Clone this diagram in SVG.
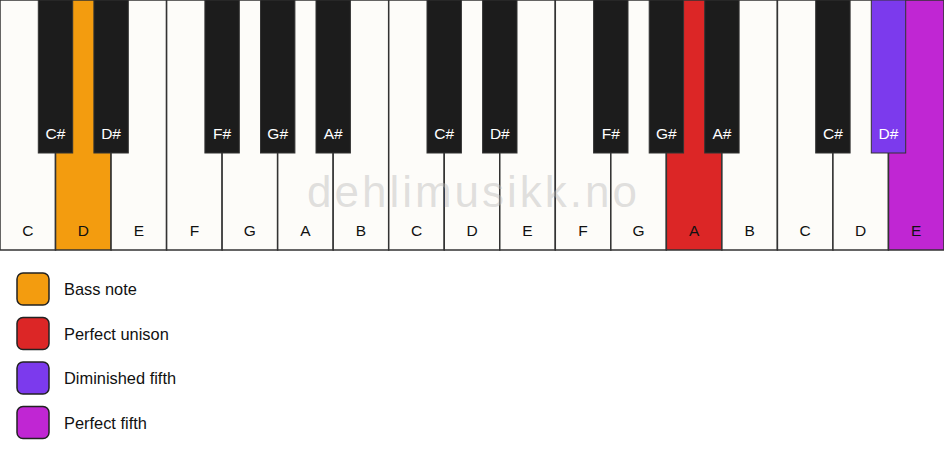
<svg xmlns="http://www.w3.org/2000/svg" width="944" height="461" viewBox="0 0 944 461">
<style>
.w{fill:#fdfcf9;stroke:#333;stroke-width:1.5}
.b{fill:#1c1c1c;stroke:#333;stroke-width:1}
.wl{font-family:"Liberation Sans",Arial,sans-serif;font-size:15.5px;fill:#111;text-anchor:middle}
.bl{font-family:"Liberation Sans",Arial,sans-serif;font-size:15.5px;fill:#fff;text-anchor:middle}
.lg{stroke:#222;stroke-width:1.5}
.lt{font-family:"Liberation Sans",Arial,sans-serif;font-size:16.4px;fill:#111}
</style>
<rect x="0" y="0" width="944" height="461" fill="#ffffff"/>
<g id="white-keys">
<g id="w0"><rect class="w" x="0" y="0" width="55.53" height="250"/><text class="wl" x="27.8" y="236">C</text></g>
<g id="w1"><rect class="w" x="55.53" y="0" width="55.53" height="250" style="fill:#f39c0f"/><text class="wl" x="83.3" y="236">D</text></g>
<g id="w2"><rect class="w" x="111.06" y="0" width="55.53" height="250"/><text class="wl" x="138.8" y="236">E</text></g>
<g id="w3"><rect class="w" x="166.59" y="0" width="55.53" height="250"/><text class="wl" x="194.4" y="236">F</text></g>
<g id="w4"><rect class="w" x="222.12" y="0" width="55.53" height="250"/><text class="wl" x="249.9" y="236">G</text></g>
<g id="w5"><rect class="w" x="277.65" y="0" width="55.53" height="250"/><text class="wl" x="305.4" y="236">A</text></g>
<g id="w6"><rect class="w" x="333.18" y="0" width="55.53" height="250"/><text class="wl" x="360.9" y="236">B</text></g>
<g id="w7"><rect class="w" x="388.71" y="0" width="55.53" height="250"/><text class="wl" x="416.5" y="236">C</text></g>
<g id="w8"><rect class="w" x="444.24" y="0" width="55.53" height="250"/><text class="wl" x="472" y="236">D</text></g>
<g id="w9"><rect class="w" x="499.76" y="0" width="55.53" height="250"/><text class="wl" x="527.5" y="236">E</text></g>
<g id="w10"><rect class="w" x="555.29" y="0" width="55.53" height="250"/><text class="wl" x="583.1" y="236">F</text></g>
<g id="w11"><rect class="w" x="610.82" y="0" width="55.53" height="250"/><text class="wl" x="638.6" y="236">G</text></g>
<g id="w12"><rect class="w" x="666.35" y="0" width="55.53" height="250" style="fill:#dc2626"/><text class="wl" x="694.1" y="236">A</text></g>
<g id="w13"><rect class="w" x="721.88" y="0" width="55.53" height="250"/><text class="wl" x="749.6" y="236">B</text></g>
<g id="w14"><rect class="w" x="777.41" y="0" width="55.53" height="250"/><text class="wl" x="805.2" y="236">C</text></g>
<g id="w15"><rect class="w" x="832.94" y="0" width="55.53" height="250"/><text class="wl" x="860.7" y="236">D</text></g>
<g id="w16"><rect class="w" x="888.47" y="0" width="55.53" height="250" style="fill:#c026d3"/><text class="wl" x="916.2" y="236">E</text></g>
</g>
<text x="472" y="207" textLength="330" font-family="'Liberation Sans',Arial,sans-serif" font-size="44" fill="#bbbbbb" fill-opacity="0.45" text-anchor="middle">dehlimusikk.no</text>
<g id="black-keys">
<g id="b0"><rect class="b" x="38.3" y="0" width="34.4" height="153"/><text class="bl" x="55.5" y="138.5">C#</text></g>
<g id="b1"><rect class="b" x="93.9" y="0" width="34.4" height="153"/><text class="bl" x="111.1" y="138.5">D#</text></g>
<g id="b3"><rect class="b" x="204.9" y="0" width="34.4" height="153"/><text class="bl" x="222.1" y="138.5">F#</text></g>
<g id="b4"><rect class="b" x="260.5" y="0" width="34.4" height="153"/><text class="bl" x="277.7" y="138.5">G#</text></g>
<g id="b5"><rect class="b" x="316" y="0" width="34.4" height="153"/><text class="bl" x="333.2" y="138.5">A#</text></g>
<g id="b7"><rect class="b" x="427" y="0" width="34.4" height="153"/><text class="bl" x="444.2" y="138.5">C#</text></g>
<g id="b8"><rect class="b" x="482.6" y="0" width="34.4" height="153"/><text class="bl" x="499.8" y="138.5">D#</text></g>
<g id="b10"><rect class="b" x="593.6" y="0" width="34.4" height="153"/><text class="bl" x="610.8" y="138.5">F#</text></g>
<g id="b11"><rect class="b" x="649.2" y="0" width="34.4" height="153"/><text class="bl" x="666.4" y="138.5">G#</text></g>
<g id="b12"><rect class="b" x="704.7" y="0" width="34.4" height="153"/><text class="bl" x="721.9" y="138.5">A#</text></g>
<g id="b14"><rect class="b" x="815.7" y="0" width="34.4" height="153"/><text class="bl" x="832.9" y="138.5">C#</text></g>
<g id="b15"><rect class="b" x="871.3" y="0" width="34.4" height="153" style="fill:#7c3aed"/><text class="bl" x="888.5" y="138.5">D#</text></g>
</g>
<g id="legend">
<g id="lg-bass"><rect class="lg" x="17" y="273" width="32" height="32" rx="6" fill="#f39c0f"/><text class="lt" x="64" y="295">Bass note</text></g>
<g id="lg-unison"><rect class="lg" x="17" y="317.5" width="32" height="32" rx="6" fill="#dc2626"/><text class="lt" x="64" y="339.5">Perfect unison</text></g>
<g id="lg-dim5"><rect class="lg" x="17" y="362" width="32" height="32" rx="6" fill="#7c3aed"/><text class="lt" x="64" y="384">Diminished fifth</text></g>
<g id="lg-p5"><rect class="lg" x="17" y="406.5" width="32" height="32" rx="6" fill="#c026d3"/><text class="lt" x="64" y="428.5">Perfect fifth</text></g>
</g>
</svg>
